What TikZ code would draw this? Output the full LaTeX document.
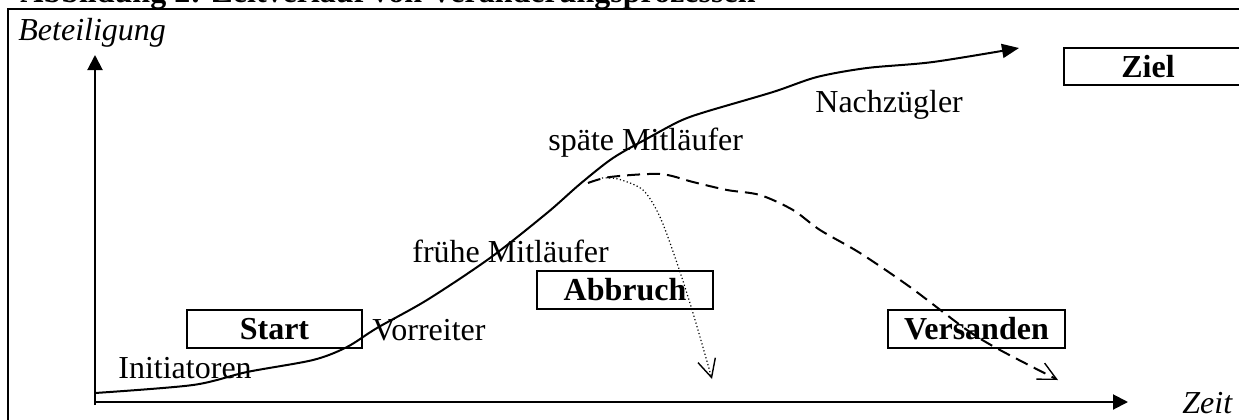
\documentclass[tikz,border=0pt]{standalone}
\usepackage{fontspec}
\setmainfont{Liberation Serif}
\usetikzlibrary{arrows.meta}
\begin{document}
\begin{tikzpicture}[x=0.5pt,y=-0.5pt,
  lbl/.style={font=\fontsize{16}{19}\selectfont, inner sep=0pt, anchor=base west},
  axlbl/.style={font=\fontsize{16}{19}\selectfont\itshape, inner sep=0pt, anchor=base west},
  boxlbl/.style={font=\fontsize{16}{19}\selectfont\bfseries, inner sep=0pt},
  stagebox/.style={draw, line width=1pt, minimum height=19pt, inner sep=0pt, font=\fontsize{16}{19}\selectfont\bfseries},
  axis/.style={line width=1pt, -{Triangle[length=7.5pt,width=7.5pt]}},
  maincurve/.style={line width=1pt, -{Triangle[length=8.5pt,width=7pt]}},
  opentip/.style={-{Straight Barb[length=9pt,width=9pt,line width=0.7pt]}},
  dashcurve/.style={line width=1pt, dash pattern=on 6.5pt off 3.5pt, opentip},
  dotcurve/.style={line width=0.6pt, dash pattern=on 0.6pt off 1.2pt, opentip}]
\useasboundingbox (0,0) rectangle (1239,419);
\clip (0,0) rectangle (1239,419);
% title (cut off at top, as in the reference)
\node[lbl, font=\fontsize{16}{19}\selectfont\bfseries] (title) at (20,2) {Abbildung 2: Zeitverlauf von Veränderungsprozessen};
% frame
\draw[line width=1pt] (8,9) rectangle (1270,450);
% axes
\coordinate (origin) at (95,402);
\coordinate (ybot) at (95,405);
\coordinate (ytip) at (95,55);
\coordinate (xtip) at (1128,402);
\draw[axis] (ybot) -- (ytip);
\draw[axis] (origin) -- (xtip);
\node[axlbl] (ylab) at (18,40) {Beteiligung};
\node[axlbl] (xlab) at (1182,413) {Zeit};
% main curve
\coordinate (cstart) at (95,393);
\coordinate (cend) at (1019,48);
\draw[maincurve] plot[smooth, tension=0.5] coordinates {(95,393) (193,385) (247,372) (313,360) (347,347) (377,328) (427,300) (490,258) (547,213) (580,184) (613,158) (650,137) (680,121) (705,112) (773,92) (817,77) (867,68) (933,62) (1019,48)};
% dotted (Abbruch) curve
\draw[dotcurve] plot[smooth, tension=0.5] coordinates {(602,178) (618,179) (643,190) (660,217) (677,263) (693,313) (712,379)};
% dashed (Versanden) curve
\draw[dashcurve] plot[smooth, tension=0.5] coordinates {(588,183) (610,177) (660,174) (693,182) (727,190) (760,195) (793,210) (820,230) (860,253) (910,287) (967,330) (1000,350) (1058,380)};
% labels
\node[lbl] (init) at (118,378) {Initiatoren};
\node[lbl] (vorr) at (372,340) {Vorreiter};
\node[lbl] (frueh) at (412,262) {frühe Mitläufer};
\node[lbl] (spaet) at (548,150) {späte Mitläufer};
\node[lbl] (nach) at (815,112) {Nachzügler};
% boxes
\node[stagebox, minimum width=87.5pt] (start) at (274.5,329) {Start};
\node[stagebox, minimum width=88pt] (abbruch) at (625,290) {Abbruch};
\node[stagebox, minimum width=88.5pt] (versanden) at (976.5,329) {Versanden};
\draw[line width=1pt] (1064,48) rectangle (1270,85);
\node[boxlbl] (ziel) at (1148,67) {Ziel};
\end{tikzpicture}
\end{document}
